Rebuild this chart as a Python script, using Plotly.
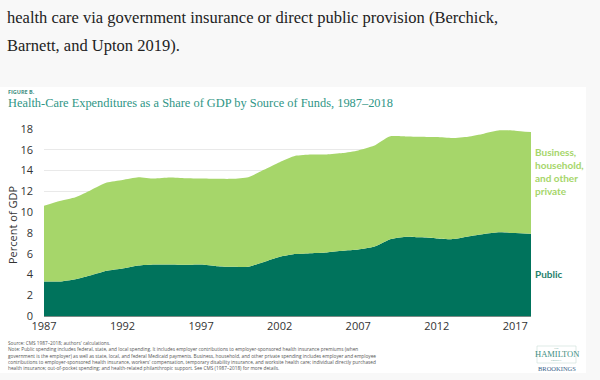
import plotly.graph_objects as go

years = list(range(1987, 2019))
public = [3.32, 3.32, 3.54, 3.93, 4.35, 4.57, 4.86, 4.96, 4.96, 4.93, 4.96, 4.80, 4.73, 4.73, 5.20, 5.70,
          5.96, 6.05, 6.12, 6.28, 6.40, 6.66, 7.37, 7.63, 7.57, 7.47, 7.40, 7.66, 7.89, 8.05, 7.98, 7.92]
private = [7.30, 7.75, 7.89, 8.21, 8.50, 8.53, 8.50, 8.27, 8.37, 8.33, 8.27, 8.40, 8.47, 8.63, 8.87, 9.10,
           9.46, 9.50, 9.43, 9.40, 9.54, 9.73, 9.92, 9.66, 9.69, 9.75, 9.73, 9.60, 9.66, 9.82, 9.86, 9.78]
x_ticks = [1987, 1992, 1997, 2002, 2007, 2012, 2017]
y_ticks = [0, 2, 4, 6, 8, 10, 12, 14, 16, 18]

W, H = 600, 380
L, R, T, B = 44, 531, 129, 316

DARK = "#00735c"
LIGHT = "#a6d66a"
TEAL = "#2f9686"
BG = "#f8f8f8"


def px(x):
    return (x - L) / (R - L)


def py(y):
    return (B - y) / (B - T)


fig = go.Figure()
fig.add_trace(go.Scatter(x=years, y=public, mode="lines", stackgroup="s", line=dict(width=0, color=DARK, shape="spline", smoothing=0.5),
                         fillcolor=DARK, name="Public", hoverinfo="x+y"))
fig.add_trace(go.Scatter(x=years, y=private, mode="lines", stackgroup="s", line=dict(width=0, color=LIGHT, shape="spline", smoothing=0.5),
                         fillcolor=LIGHT, name="Business, household, and other private", hoverinfo="x+y"))

shapes = [
    dict(type="rect", xref="paper", yref="paper", x0=px(0), x1=px(586), y0=py(373), y1=py(87),
         fillcolor="white", line=dict(width=0), layer="below"),
    dict(type="rect", xref="paper", yref="paper", x0=px(537), x1=px(576), y0=py(363), y1=py(346),
         fillcolor="rgba(0,0,0,0)", line=dict(width=0.6, color="#c9ddd6"), layer="above"),
]

ann = []


def add_text(x, y, text, size, color, family="Open Sans", xanchor="left", yanchor="middle", **kw):
    ann.append(dict(x=px(x), y=py(y), xref="paper", yref="paper", text=text, showarrow=False,
                    xanchor=xanchor, yanchor=yanchor, align=kw.pop("align", "left"),
                    font=dict(size=size, color=color, family=family), **kw))


serif = "Liberation Serif"
add_text(5, 17, "health care via government insurance or direct public provision (Berchick,", 16.5, "#222222", family=serif)
add_text(5, 45, "Barnett, and Upton 2019).", 16.5, "#222222", family=serif)
add_text(6, 92, "<b>FIGURE B.</b>", 5.5, "#3f8f82")
add_text(6, 103, "Health-Care Expenditures as a Share of GDP by Source of Funds, 1987\u20132018", 12.4, TEAL, family=serif)
add_text(12, 225, "Percent of GDP", 11, "#333333", textangle=-90, xanchor="center")
add_text(533, 171, "<b>Business,<br>household,<br>and other<br>private</b>", 10, LIGHT, family="Lato")
add_text(533, 274, "<b>Public</b>", 10, "#1f7f6c", family="Lato")

notes = [
    "Source: CMS 1987\u20132018; authors' calculations.",
    "Note: Public spending includes federal, state, and local spending. It includes employer contributions to employer-sponsored health insurance premiums (when",
    "government is the employer) as well as state, local, and federal Medicaid payments. Business, household, and other private spending includes employer and employee",
    "contributions to employer-sponsored health insurance, workers' compensation, temporary disability insurance, and worksite health care; individual directly purchased",
    "health insurance; out-of-pocket spending; and health-related philanthropic support. See CMS (1987\u20132018) for more details.",
]
for i, t in enumerate(notes):
    add_text(6, 343 + i * 6.3, t, 4.75, "#555555")

add_text(556.5, 348.5, "THE", 2.5, "#3f8f82", family=serif, xanchor="center")
add_text(556.5, 354, "HAMILTON", 8.5, "#3f8f82", family=serif, xanchor="center")
add_text(556.5, 360, "PROJECT", 2.5, "#3f8f82", family=serif, xanchor="center")
add_text(556.5, 368.5, "BROOKINGS", 6.5, "#3a5f8a", family=serif, xanchor="center")

fig.update_layout(
    width=W, height=H,
    margin=dict(l=L, r=W - R, t=T, b=H - B, pad=0),
    paper_bgcolor=BG,
    plot_bgcolor="rgba(0,0,0,0)",
    showlegend=False,
    shapes=shapes,
    annotations=ann,
    font=dict(family="Open Sans", size=11, color="#333333"),
    xaxis=dict(range=[1987, 2018], tickmode="array", tickvals=x_ticks, ticktext=[str(v) for v in x_ticks],
               showgrid=False, zeroline=False, showline=True, linecolor="#7a8a85", linewidth=1,
               ticks="", tickfont=dict(size=11, color="#333333")),
    yaxis=dict(range=[0, 18], tickmode="array", tickvals=y_ticks, ticktext=[str(v) for v in y_ticks],
               showgrid=True, gridcolor="#e9e9e9", gridwidth=1, zeroline=False, ticks="",
               ticklabelstandoff=10, tickfont=dict(size=11, color="#333333")),
)

fig.write_html("out.html", config={"displayModeBar": False},
               post_script="document.body.style.margin='0px';document.body.style.background='%s';" % BG)
